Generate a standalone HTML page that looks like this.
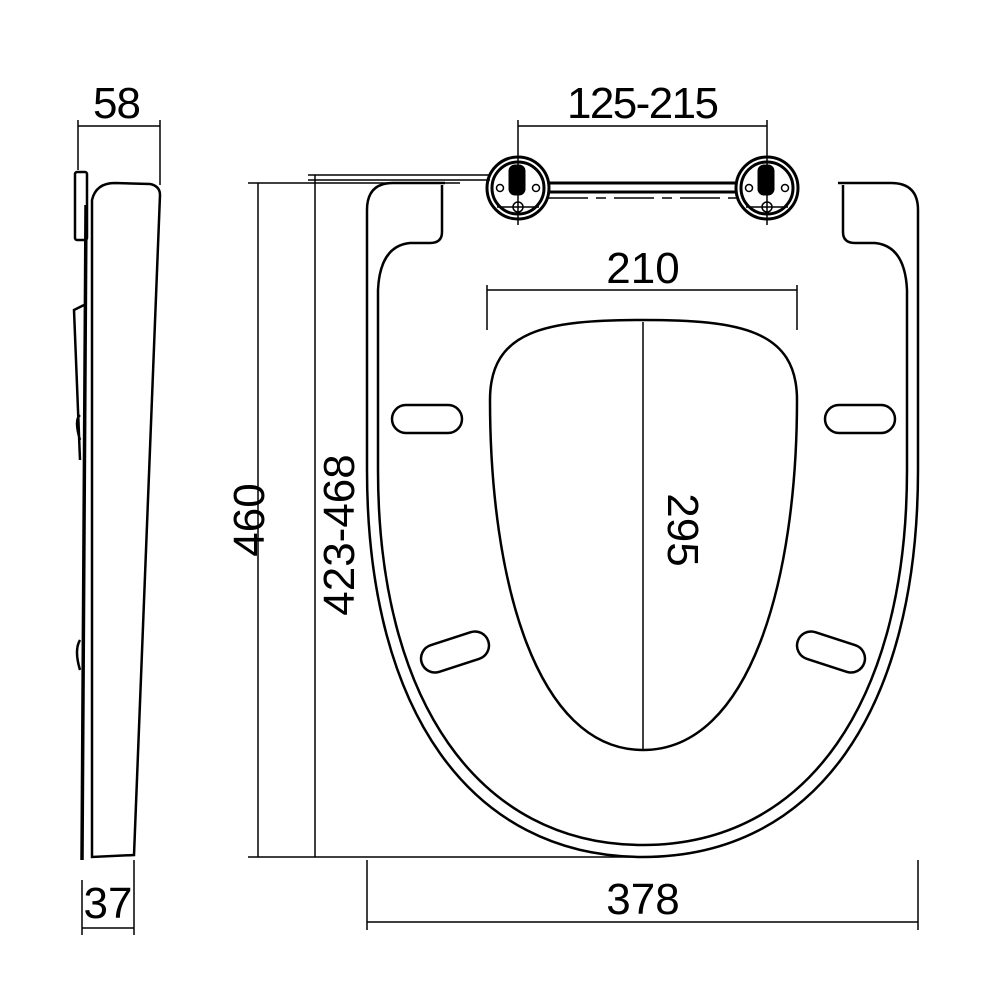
<!DOCTYPE html>
<html><head><style>body{margin:0;background:#fff}svg{display:block}</style></head><body>
<svg width="1000" height="1000" viewBox="0 0 1000 1000" xmlns="http://www.w3.org/2000/svg" font-family="Liberation Sans, sans-serif" fill="none" stroke="#000">
<path d="M445,183 L393,183 Q367,183 367,210 L367,470 C367,710 470,857 643,857 C816,857 918,710 918,470 L918,210 Q918,183 891,183 L838,183" stroke-width="2.5"/>
<path d="M442,185 L442,232 Q442,243 430,243 L410,243 Q380,246 378,290 L378,470 C378,700 478,845 643,845 C808,845 907,700 907,470 L907,290 Q905,246 875,243 L855,243 Q843,243 843,232 L843,185" stroke-width="2.5"/>
<path d="M548,183 L737,183 M548,192 L737,192" stroke-width="3"/>
<path d="M548,198 L737,198" stroke-width="1.5" stroke-dasharray="40,8,10,8"/>
<g stroke-width="3">
<circle cx="518" cy="188" r="31"/><circle cx="518" cy="188" r="26"/>
<circle cx="767" cy="188" r="31"/><circle cx="767" cy="188" r="26"/>
</g>
<rect x="509" y="165" width="16" height="30" rx="6" fill="#000"/>
<rect x="758" y="165" width="16" height="30" rx="6" fill="#000"/>
<g stroke-width="1.5">
<circle cx="500" cy="188" r="3.5"/><circle cx="536" cy="188" r="3.5"/><circle cx="518" cy="207" r="5"/>
<circle cx="749" cy="188" r="3.5"/><circle cx="785" cy="188" r="3.5"/><circle cx="767" cy="207" r="5"/>
<path d="M518,120 L518,225 M767,120 L767,225 M497,207 L539,207 M746,207 L788,207"/>
<path d="M308,175 L490,175 M308,180 L490,180"/>
</g>
<path d="M643,320 C740,320 797,330 797,400 C797,580 750,750 643,750 C536,750 490,580 490,400 C490,330 546,320 643,320 Z" stroke-width="2.5"/>
<g stroke-width="2.5">
<rect x="392" y="405" width="70" height="28" rx="14"/>
<rect x="825" y="405" width="70" height="28" rx="14"/>
<rect x="420" y="638" width="70" height="28" rx="14" transform="rotate(-18 455 652)"/>
<rect x="796" y="638" width="70" height="28" rx="14" transform="rotate(18 831 652)"/>
</g>
<g stroke-width="2.5">
<rect x="75" y="172" width="12" height="68" rx="2"/>
<path d="M92,200 Q96,183 115,183 L150,184 Q160,186 160,195 L134,855 L92,857 Z"/>
<path d="M86,205 L82,860" stroke-width="3.5"/>
<path d="M84,305 L74,310 L80,460 M80,415 Q74,420 80,440 M80,640 Q74,650 80,670"/>
</g>
<g stroke-width="1.5">
<path d="M78,126 L160,126 M78,120 L78,170 M160,120 L160,185"/>
<path d="M518,126 L767,126"/>
<path d="M487,290 L797,290 M487,285 L487,330 M797,285 L797,330"/>
<path d="M643,322 L643,750"/>
<path d="M258,183 L258,857 M248,183 L460,183 M248,857 L630,857"/>
<path d="M315,175 L315,857"/>
<path d="M367,922 L918,922 M367,860 L367,930 M918,860 L918,930"/>
<path d="M82,928 L134,928 M82,880 L82,935 M134,860 L134,935"/>
</g>
<g fill="#000" stroke="none" font-size="44" text-anchor="middle">
<text x="117" y="118" textLength="48">58</text>
<text x="643" y="118" textLength="152">125-215</text>
<text x="643" y="283">210</text>
<text x="643" y="914">378</text>
<text x="108" y="918">37</text>
<text transform="translate(668,530) rotate(90)">295</text>
<text transform="translate(264,520) rotate(-90)">460</text>
<text transform="translate(354,535) rotate(-90)">423-468</text>
</g>
</svg>
</body></html>
